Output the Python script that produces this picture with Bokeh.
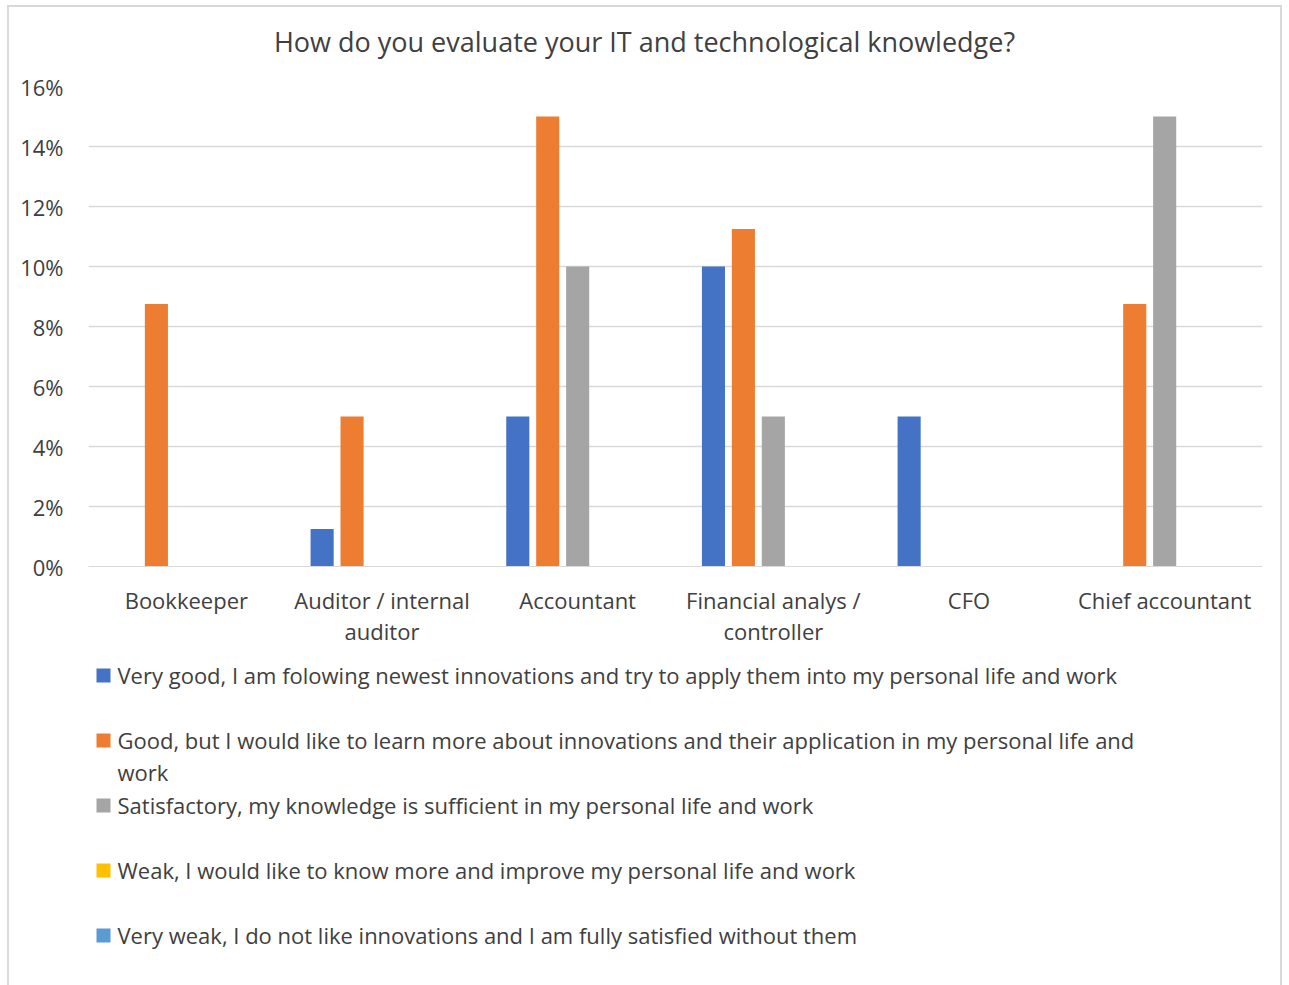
from bokeh.plotting import figure
from bokeh.layouts import column
from bokeh.models import (ColumnDataSource, FactorRange, Range1d, FixedTicker,
                          PrintfTickFormatter)
from bokeh.transform import dodge
from bokeh.embed import file_html
from bokeh.resources import INLINE
from bokeh.core.properties import value

# ---- data -------------------------------------------------------------
title = "How do you evaluate your IT and technological knowledge?"
roles = ["Bookkeeper", "Auditor / internal\nauditor", "Accountant",
         "Financial analys /\ncontroller", "CFO", "Chief accountant"]

very_good = [0, 1.25, 5, 10, 5, 0]
good = [8.75, 5, 15, 11.25, 0, 8.75]
satisfactory = [0, 0, 10, 5, 0, 15]
weak = [0, 0, 0, 0, 0, 0]
very_weak = [0, 0, 0, 0, 0, 0]

series_names = [
    "Very good, I am folowing newest innovations and try to apply them into my personal life and work",
    "Good, but I would like to learn more about innovations and their application in my personal life and\nwork",
    "Satisfactory, my knowledge is sufficient in my personal life and work",
    "Weak, I would like to know more and improve my personal life and work",
    "Very weak, I do not like innovations and I am fully satisfied without them",
]
series_values = [very_good, good, satisfactory, weak, very_weak]
colors = ["#4472C4", "#ED7D31", "#A5A5A5", "#FFC000", "#5B9BD5"]
y_ticks = [0, 2, 4, 6, 8, 10, 12, 14, 16]

FONT = "Open Sans"
TEXT = "#404040"
W = 1271
LEFT, RIGHT = 79, 18


def pixel_panel(height):
    """A bare figure whose data units are pixels (y pointing down)."""
    f = figure(width=W, height=height, x_range=Range1d(LEFT, W - RIGHT),
               y_range=Range1d(height, 0), output_backend="svg",
               toolbar_location=None, x_axis_type=None, y_axis_type=None,
               min_border_left=LEFT, min_border_right=RIGHT,
               min_border_top=0, min_border_bottom=0)
    f.grid.grid_line_color = None
    f.outline_line_color = None
    return f


# ---- title panel ------------------------------------------------------
TH = 60
top = pixel_panel(TH)
top.text(x=[635], y=[34], text=[title], text_font=value(FONT),
         text_font_size="27px", text_color=TEXT, text_align="center",
         text_baseline="middle")

# ---- chart ------------------------------------------------------------
data = {"role": roles}
for i, vals in enumerate(series_values):
    data[f"s{i}"] = vals
src = ColumnDataSource(data)

p = figure(x_range=FactorRange(*roles, range_padding=0), y_range=Range1d(0, 16),
           width=W, height=643 - TH, output_backend="svg", toolbar_location=None,
           min_border_left=LEFT, min_border_right=RIGHT, min_border_top=79 - TH,
           min_border_bottom=84)

pitch = 0.153
for i, vals in enumerate(series_values):
    p.vbar(x=dodge("role", (i - 2) * pitch, range=p.x_range), top=f"s{i}",
           width=0.118, source=src, fill_color=colors[i], line_color=None)

p.yaxis.ticker = FixedTicker(ticks=y_ticks)
p.yaxis.formatter = PrintfTickFormatter(format="%d%%")
p.yaxis.axis_line_color = None
p.yaxis.major_tick_line_color = None
p.yaxis.minor_tick_line_color = None
p.yaxis.major_label_standoff = 19
p.yaxis.major_label_text_font = FONT
p.yaxis.major_label_text_font_size = "22px"
p.yaxis.major_label_text_color = TEXT

p.xaxis.axis_line_color = "#d9d9d9"
p.xaxis.major_tick_line_color = None
p.xaxis.minor_tick_line_color = None
p.xaxis.major_label_standoff = 12
p.xaxis.major_label_text_font = FONT
p.xaxis.major_label_text_font_size = "22px"
p.xaxis.major_label_text_color = TEXT
p.xaxis.major_label_text_line_height = 1.05

p.xgrid.grid_line_color = None
p.ygrid.grid_line_color = "#d9d9d9"
p.ygrid.grid_line_width = 1.5
p.outline_line_color = None

# ---- legend panel -----------------------------------------------------
LH = 335
leg = pixel_panel(LH)
slot = 65
first = 25
ys = [first + i * slot for i in range(len(series_names))]
leg.rect(x=[94] * len(ys), y=ys, width=14, height=14, fill_color=colors,
         line_color=None)
leg.text(x=[108] * len(ys), y=[y - 16 for y in ys], text=series_names,
         text_font=value(FONT), text_font_size="22px", text_color=TEXT,
         text_baseline="top", text_align="left", text_line_height=1.08)

layout = column(top, p, leg, spacing=0, margin=(5, 0, 0, 7),
                styles={"border": "2px solid #d9d9d9", "border-bottom": "none"})

open("out.html", "w").write(file_html(layout, INLINE))
